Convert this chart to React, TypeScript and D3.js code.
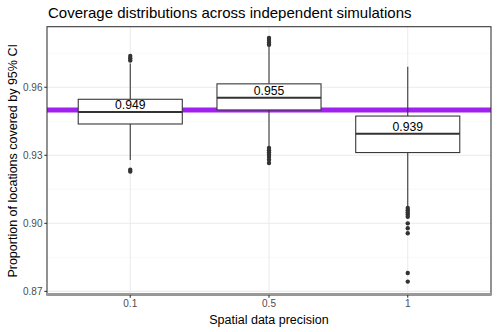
import React from "react";
import * as d3 from "d3";

const categories = ["0.1", "0.5", "1"];
const q1 = [0.9438, 0.95, 0.9312];
const medians = [0.9491, 0.9554, 0.9395];
const q3 = [0.9547, 0.9615, 0.9473];
const whiskerLow = [0.9279, 0.9338, 0.9073];
const whiskerHigh = [0.9705, 0.9779, 0.969];
const labels = ["0.949", "0.955", "0.939"];
const outliers: number[][] = [
  [0.9718, 0.9728, 0.9738, 0.9236, 0.9228],
  [0.9787, 0.9797, 0.9808, 0.9817, 0.9332, 0.9322, 0.9312, 0.9302, 0.9292, 0.928, 0.9266],
  [0.9068, 0.9058, 0.9048, 0.9039, 0.9029, 0.9, 0.8978, 0.8956, 0.8781, 0.8743],
];
const yTicks = [0.87, 0.9, 0.93, 0.96];
const yMinor = [0.885, 0.915, 0.945, 0.975];
const refLine = 0.95;

const W = 498, H = 332;
const L = 47, R = 491, T = 26.7, B = 295;

export default function App() {
  const y = d3.scaleLinear().domain([0.8684, 0.9867]).range([B, T]);
  const x = d3.scalePoint().domain(categories).range([L, R]).padding(0.6);
  const step = x.step();
  const bw = step * 0.75;
  const font = "Liberation Sans, Arial, Helvetica, sans-serif";
  return (
    <svg width={W} height={H} style={{ position: "absolute", left: 0, top: 0 }} fontFamily={font}>
      <rect x={0} y={0} width={W} height={H} fill="white" />
      {yMinor.map((v) => (
        <line key={"m" + v} x1={L} x2={R} y1={y(v)} y2={y(v)} stroke="#F2F2F2" strokeWidth={0.55} />
      ))}
      {yTicks.map((v) => (
        <line key={"g" + v} x1={L} x2={R} y1={y(v)} y2={y(v)} stroke="#EBEBEB" strokeWidth={1.07} />
      ))}
      {categories.map((c) => (
        <line key={"v" + c} x1={x(c)} x2={x(c)} y1={T} y2={B} stroke="#EBEBEB" strokeWidth={1.07} />
      ))}
      <line x1={L} x2={R} y1={y(refLine)} y2={y(refLine)} stroke="#A020F0" strokeWidth={5} />
      {categories.map((c, i) => {
        const cx = x(c)!;
        return (
          <g key={"b" + c}>
            <line x1={cx} x2={cx} y1={y(q3[i])} y2={y(whiskerHigh[i])} stroke="#333333" strokeWidth={1.07} />
            <line x1={cx} x2={cx} y1={y(q1[i])} y2={y(whiskerLow[i])} stroke="#333333" strokeWidth={1.07} />
            <rect x={cx - bw / 2} y={y(q3[i])} width={bw} height={y(q1[i]) - y(q3[i])} fill="white" stroke="#333333" strokeWidth={1.07} />
            <line x1={cx - bw / 2} x2={cx + bw / 2} y1={y(medians[i])} y2={y(medians[i])} stroke="#333333" strokeWidth={2.1} />
            {outliers[i].map((v, j) => (
              <circle key={j} cx={cx} cy={y(v)} r={2.2} fill="#333333" />
            ))}
            <text x={cx} y={y(medians[i]) - 2.5} textAnchor="middle" fontSize={12.2} fill="black">{labels[i]}</text>
          </g>
        );
      })}
      <rect x={L} y={T} width={R - L} height={B - T} fill="none" stroke="#333333" strokeWidth={1.07} />
      <line x1={L - 0.5} x2={R + 0.5} y1={B - 0.7} y2={B - 0.7} stroke="#999999" strokeWidth={2.6} />
      {yTicks.map((v) => (
        <g key={"t" + v}>
          <line x1={L - 2.7} x2={L} y1={y(v)} y2={y(v)} stroke="#333333" strokeWidth={1.07} />
          <text x={L - 4.5} y={y(v) + 3.6} textAnchor="end" fontSize={10} fill="#4D4D4D">{v.toFixed(2)}</text>
        </g>
      ))}
      {categories.map((c) => (
        <g key={"xt" + c}>
          <line x1={x(c)} x2={x(c)} y1={B} y2={B + 2.7} stroke="#333333" strokeWidth={1.07} />
          <text x={x(c)} y={B + 12} textAnchor="middle" fontSize={10} fill="#4D4D4D">{c}</text>
        </g>
      ))}
      <text x={(L + R) / 2} y={323.5} textAnchor="middle" fontSize={12.5} fill="black">Spatial data precision</text>
      <text transform={`translate(17,${(T + B) / 2}) rotate(-90)`} textAnchor="middle" fontSize={12.5} fill="black">Proportion of locations covered by 95% CI</text>
      <text x={L + 1} y={18} fontSize={15} fill="black">Coverage distributions across independent simulations</text>
    </svg>
  );
}
